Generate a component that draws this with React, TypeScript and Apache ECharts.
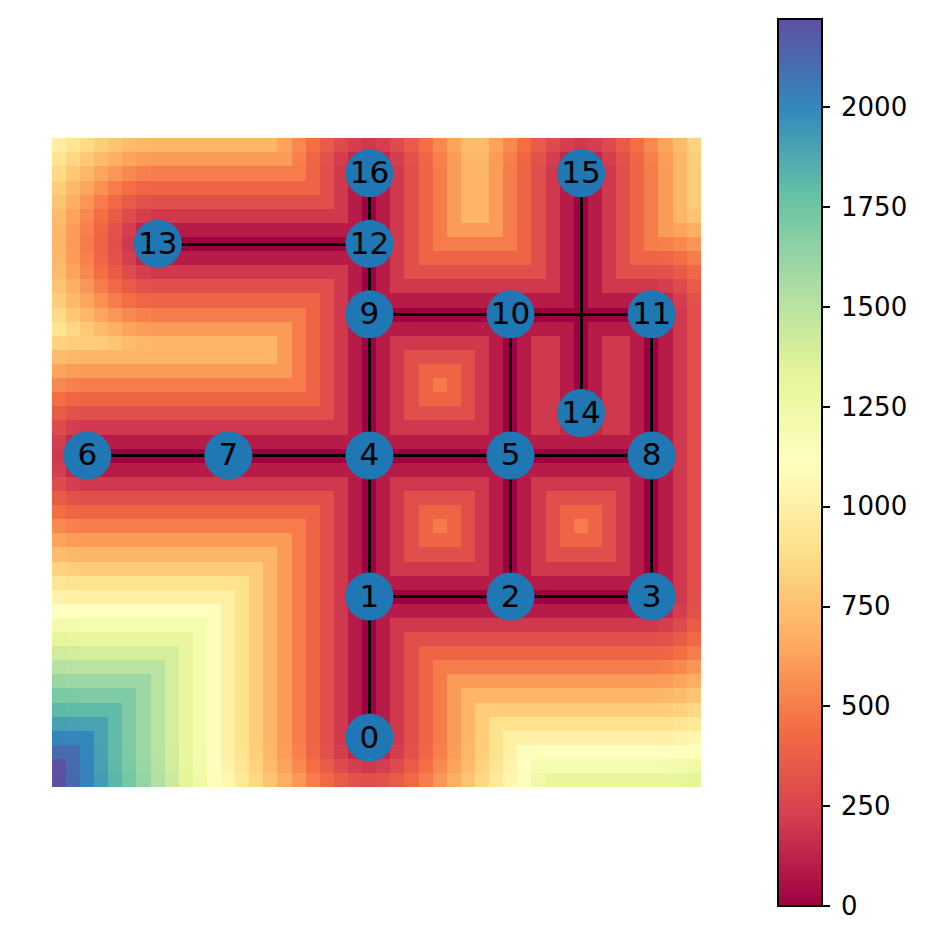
import React, { useEffect, useRef } from "react";
import * as echarts from "echarts";

// Heat values, bottom row first, left to right.
const heatRows: number[][] = [
[2220,2121,2022,1924,1825,1726,1628,1530,1432,1334,1237,1140,1044,949,854,762,671,583,500,424,361,316,300,316,361,424,500,583,671,762,854,949,1044,1140,1237,1300,1300,1300,1300,1300,1300,1300,1300,1304,1315,1334],
[2209,2110,2010,1910,1811,1712,1612,1513,1414,1315,1217,1118,1020,922,825,728,632,539,447,361,283,224,200,224,283,361,447,539,632,728,825,922,1020,1118,1200,1200,1200,1200,1200,1200,1200,1200,1200,1204,1217,1237],
[2110,2102,2002,1903,1803,1703,1603,1503,1404,1304,1204,1105,1005,906,806,707,608,510,412,316,224,141,100,141,224,316,412,510,608,707,806,906,1005,1100,1100,1100,1100,1100,1100,1100,1100,1100,1100,1105,1118,1140],
[2010,2002,2000,1900,1800,1700,1600,1500,1400,1300,1200,1100,1000,900,800,700,600,500,400,300,200,100,0,100,200,300,400,500,600,700,800,900,1000,1000,1000,1000,1000,1000,1000,1000,1000,1000,1000,1005,1020,1044],
[1910,1903,1900,1900,1800,1700,1600,1500,1400,1300,1200,1100,1000,900,800,700,600,500,400,300,200,100,0,100,200,300,400,500,600,700,800,900,900,900,900,900,900,900,900,900,900,900,900,906,922,949],
[1811,1803,1800,1800,1800,1700,1600,1500,1400,1300,1200,1100,1000,900,800,700,600,500,400,300,200,100,0,100,200,300,400,500,600,700,800,800,800,800,800,800,800,800,800,800,800,800,800,806,825,854],
[1712,1703,1700,1700,1700,1700,1600,1500,1400,1300,1200,1100,1000,900,800,700,600,500,400,300,200,100,0,100,200,300,400,500,600,700,700,700,700,700,700,700,700,700,700,700,700,700,700,707,728,762],
[1612,1603,1600,1600,1600,1600,1600,1500,1400,1300,1200,1100,1000,900,800,700,600,500,400,300,200,100,0,100,200,300,400,500,600,600,600,600,600,600,600,600,600,600,600,600,600,600,600,608,632,671],
[1513,1503,1500,1500,1500,1500,1500,1500,1400,1300,1200,1100,1000,900,800,700,600,500,400,300,200,100,0,100,200,300,400,500,500,500,500,500,500,500,500,500,500,500,500,500,500,500,500,510,539,583],
[1414,1404,1400,1400,1400,1400,1400,1400,1400,1300,1200,1100,1000,900,800,700,600,500,400,300,200,100,0,100,200,300,400,400,400,400,400,400,400,400,400,400,400,400,400,400,400,400,400,412,447,500],
[1315,1304,1300,1300,1300,1300,1300,1300,1300,1300,1200,1100,1000,900,800,700,600,500,400,300,200,100,0,100,200,300,300,300,300,300,300,300,300,300,300,300,300,300,300,300,300,300,300,316,361,424],
[1217,1204,1200,1200,1200,1200,1200,1200,1200,1200,1200,1100,1000,900,800,700,600,500,400,300,200,100,0,100,200,200,200,200,200,200,200,200,200,200,200,200,200,200,200,200,200,200,200,224,283,361],
[1118,1105,1100,1100,1100,1100,1100,1100,1100,1100,1100,1100,1000,900,800,700,600,500,400,300,200,100,0,100,100,100,100,100,100,100,100,100,100,100,100,100,100,100,100,100,100,100,100,141,224,316],
[1020,1005,1000,1000,1000,1000,1000,1000,1000,1000,1000,1000,1000,900,800,700,600,500,400,300,200,100,0,0,0,0,0,0,0,0,0,0,0,0,0,0,0,0,0,0,0,0,0,100,200,300],
[922,906,900,900,900,900,900,900,900,900,900,900,900,900,800,700,600,500,400,300,200,100,0,100,100,100,100,100,100,100,100,100,0,100,100,100,100,100,100,100,100,100,0,100,200,300],
[825,806,800,800,800,800,800,800,800,800,800,800,800,800,800,700,600,500,400,300,200,100,0,100,200,200,200,200,200,200,200,100,0,100,200,200,200,200,200,200,200,100,0,100,200,300],
[728,707,700,700,700,700,700,700,700,700,700,700,700,700,700,700,600,500,400,300,200,100,0,100,200,300,300,300,300,300,200,100,0,100,200,300,300,300,300,300,200,100,0,100,200,300],
[632,608,600,600,600,600,600,600,600,600,600,600,600,600,600,600,600,500,400,300,200,100,0,100,200,300,400,400,400,300,200,100,0,100,200,300,400,400,400,300,200,100,0,100,200,300],
[539,510,500,500,500,500,500,500,500,500,500,500,500,500,500,500,500,500,400,300,200,100,0,100,200,300,400,500,400,300,200,100,0,100,200,300,400,500,400,300,200,100,0,100,200,300],
[447,412,400,400,400,400,400,400,400,400,400,400,400,400,400,400,400,400,400,300,200,100,0,100,200,300,400,400,400,300,200,100,0,100,200,300,400,400,400,300,200,100,0,100,200,300],
[361,316,300,300,300,300,300,300,300,300,300,300,300,300,300,300,300,300,300,300,200,100,0,100,200,300,300,300,300,300,200,100,0,100,200,300,300,300,300,300,200,100,0,100,200,300],
[283,224,200,200,200,200,200,200,200,200,200,200,200,200,200,200,200,200,200,200,200,100,0,100,200,200,200,200,200,200,200,100,0,100,200,200,200,200,200,200,200,100,0,100,200,300],
[224,141,100,100,100,100,100,100,100,100,100,100,100,100,100,100,100,100,100,100,100,100,0,100,100,100,100,100,100,100,100,100,0,100,100,100,100,100,100,100,100,100,0,100,200,300],
[200,100,0,0,0,0,0,0,0,0,0,0,0,0,0,0,0,0,0,0,0,0,0,0,0,0,0,0,0,0,0,0,0,0,0,0,0,0,0,0,0,0,0,100,200,300],
[224,141,100,100,100,100,100,100,100,100,100,100,100,100,100,100,100,100,100,100,100,100,0,100,100,100,100,100,100,100,100,100,0,100,100,100,100,100,100,100,100,100,0,100,200,300],
[283,224,200,200,200,200,200,200,200,200,200,200,200,200,200,200,200,200,200,200,200,100,0,100,200,200,200,200,200,200,200,100,0,100,200,200,141,100,141,200,200,100,0,100,200,300],
[361,316,300,300,300,300,300,300,300,300,300,300,300,300,300,300,300,300,300,300,200,100,0,100,200,300,300,300,300,300,200,100,0,100,200,200,100,0,100,200,200,100,0,100,200,300],
[447,412,400,400,400,400,400,400,400,400,400,400,400,400,400,400,400,400,400,300,200,100,0,100,200,300,400,400,400,300,200,100,0,100,200,200,100,0,100,200,200,100,0,100,200,300],
[539,510,500,500,500,500,500,500,500,500,500,500,500,500,500,500,500,500,400,300,200,100,0,100,200,300,400,500,400,300,200,100,0,100,200,200,100,0,100,200,200,100,0,100,200,300],
[632,608,600,600,600,600,600,600,600,600,600,600,600,600,600,600,600,500,400,300,200,100,0,100,200,300,400,400,400,300,200,100,0,100,200,200,100,0,100,200,200,100,0,100,200,300],
[728,707,700,700,700,700,700,700,700,700,700,700,700,700,700,700,600,500,400,300,200,100,0,100,200,300,300,300,300,300,200,100,0,100,200,200,100,0,100,200,200,100,0,100,200,300],
[825,806,800,800,762,728,707,700,700,700,700,700,700,700,700,700,600,500,400,300,200,100,0,100,200,200,200,200,200,200,200,100,0,100,200,200,100,0,100,200,200,100,0,100,200,300],
[922,849,781,721,671,632,608,600,600,600,600,600,600,600,600,600,600,500,400,300,200,100,0,100,100,100,100,100,100,100,100,100,0,100,100,100,100,0,100,100,100,100,0,100,200,300],
[860,781,707,640,583,539,510,500,500,500,500,500,500,500,500,500,500,500,400,300,200,100,0,0,0,0,0,0,0,0,0,0,0,0,0,0,0,0,0,0,0,0,0,100,200,300],
[806,721,640,566,500,447,412,400,400,400,400,400,400,400,400,400,400,400,400,300,200,100,0,100,100,100,100,100,100,100,100,100,100,100,100,100,100,0,100,100,100,100,100,141,224,316],
[762,671,583,500,424,361,316,300,300,300,300,300,300,300,300,300,300,300,300,300,200,100,0,100,200,200,200,200,200,200,200,200,200,200,200,200,100,0,100,200,200,200,200,224,283,361],
[728,632,539,447,361,283,224,200,200,200,200,200,200,200,200,200,200,200,200,200,200,100,0,100,200,300,300,300,300,300,300,300,300,300,300,200,100,0,100,200,300,300,300,316,361,424],
[707,608,510,412,316,224,141,100,100,100,100,100,100,100,100,100,100,100,100,100,100,100,0,100,200,300,400,400,400,400,400,400,400,400,300,200,100,0,100,200,300,400,400,412,447,500],
[700,600,500,400,300,200,100,0,0,0,0,0,0,0,0,0,0,0,0,0,0,0,0,100,200,300,400,500,500,500,500,500,500,400,300,200,100,0,100,200,300,400,500,510,539,583],
[707,608,510,412,316,224,141,100,100,100,100,100,100,100,100,100,100,100,100,100,100,100,0,100,200,300,400,500,600,600,600,600,500,400,300,200,100,0,100,200,300,400,500,600,632,671],
[728,632,539,447,361,283,224,200,200,200,200,200,200,200,200,200,200,200,200,200,200,100,0,100,200,300,400,500,600,700,700,600,500,400,300,200,100,0,100,200,300,400,500,600,700,762],
[762,671,583,500,424,361,316,300,300,300,300,300,300,300,300,300,300,300,300,300,200,100,0,100,200,300,400,500,600,700,700,600,500,400,300,200,100,0,100,200,300,400,500,600,700,800],
[806,721,640,566,500,447,412,400,400,400,400,400,400,400,400,400,400,400,400,300,200,100,0,100,200,300,400,500,600,700,700,600,500,400,300,200,100,0,100,200,300,400,500,600,700,800],
[860,781,707,640,583,539,510,500,500,500,500,500,500,500,500,500,500,500,400,300,200,100,0,100,200,300,400,500,600,700,700,600,500,400,300,200,100,0,100,200,300,400,500,600,700,800],
[922,849,781,721,671,632,608,600,600,600,600,600,600,600,600,600,600,510,412,316,224,141,100,141,224,316,412,510,608,707,707,608,510,412,316,224,141,100,141,224,316,412,510,608,707,806],
[990,922,860,806,762,728,707,700,700,700,700,700,700,700,700,700,632,539,447,361,283,224,200,224,283,361,447,539,632,728,728,632,539,447,361,283,224,200,224,283,361,447,539,632,728,825],
];

const nodeNames = ["0","1","2","3","4","5","6","7","8","9","10","11","12","13","14","15","16"];
const nodeCols = [22,22,32,42,22,32,2,12,42,22,32,42,22,7,37,37,22];
const nodeRows = [3,13,13,13,23,23,23,23,23,33,33,33,38,38,26,43,43];
const edges: [number, number][] = [
  [0,1],[1,2],[2,3],[1,4],[2,5],[3,8],[4,5],[5,8],[6,7],[7,4],[4,9],[5,10],[8,11],
  [9,10],[10,11],[9,12],[12,16],[13,12],[14,15],
];

const colorbarTicks = [0,250,500,750,1000,1250,1500,1750,2000];
const valueMax = 2220;
const spectral = ["#9e0142","#d53e4f","#f46d43","#fdae61","#fee08b","#ffffbf","#e6f598","#abdda4","#66c2a5","#3288bd","#5e4fa2"];

const FONT = "DejaVu Sans";

export default function App() {
  const ref = useRef<HTMLDivElement>(null);
  useEffect(() => {
    const chart = echarts.init(ref.current!, undefined, { renderer: "svg" });
    const categories = heatRows.map((_, i) => String(i));
    const heatData = heatRows.flatMap((row, r) => row.map((v, c) => [c, r, v]));
    const gridRect = { left: 52, top: 138, width: 649, height: 649 };
    const cbRect = { left: 778, top: 19, width: 44, height: 887 };
    chart.setOption({
      animation: false,
      backgroundColor: "#ffffff",
      grid: [
        { ...gridRect, containLabel: false },
        { ...cbRect, containLabel: false },
      ],
      xAxis: [
        { type: "category", gridIndex: 0, data: categories, show: false },
        { type: "category", gridIndex: 1, data: ["bar"], show: false },
      ],
      yAxis: [
        { type: "category", gridIndex: 0, data: categories, show: false },
        {
          type: "value",
          gridIndex: 1,
          position: "right",
          min: 0,
          max: valueMax,
          splitLine: { show: false },
          axisLine: { show: true, lineStyle: { color: "#000", width: 2 } },
          axisTick: {
            show: true,
            length: 8,
            customValues: colorbarTicks,
            lineStyle: { color: "#000", width: 2 },
          },
          axisLabel: {
            show: true,
            customValues: colorbarTicks,
            formatter: (v: number) => String(v),
            color: "#000",
            fontFamily: FONT,
            fontSize: 26,
            margin: 19,
            padding: [3, 0, 0, 0],
          },
        },
      ],
      visualMap: {
        show: false,
        type: "continuous",
        seriesIndex: 0,
        min: 0,
        max: valueMax,
        inRange: { color: spectral },
      },
      series: [
        {
          type: "heatmap",
          xAxisIndex: 0,
          yAxisIndex: 0,
          data: heatData,
          progressive: 0,
          itemStyle: { borderWidth: 0 },
          emphasis: { disabled: true },
          z: 1,
        },
        {
          type: "lines",
          coordinateSystem: "cartesian2d",
          xAxisIndex: 0,
          yAxisIndex: 0,
          polyline: false,
          silent: true,
          lineStyle: { color: "#000", width: 3, opacity: 1 },
          data: edges.map(([a, b]) => ({
            coords: [
              [nodeCols[a], nodeRows[a]],
              [nodeCols[b], nodeRows[b]],
            ],
          })),
          z: 2,
        },
        {
          type: "scatter",
          xAxisIndex: 0,
          yAxisIndex: 0,
          symbol: "circle",
          symbolSize: 48,
          itemStyle: { color: "#1f77b4", opacity: 1, borderColor: "#1f77b4", borderWidth: 0.01 },
          label: {
            show: true,
            position: "inside",
            formatter: (p: any) => p.name,
            color: "#000",
            fontFamily: FONT,
            fontSize: 31,
            offset: [0, -1],
          },
          data: nodeNames.map((name, i) => ({ name, value: [nodeCols[i], nodeRows[i]] })),
          z: 3,
        },
        {
          type: "bar",
          xAxisIndex: 1,
          yAxisIndex: 1,
          barWidth: "100%",
          silent: true,
          data: [valueMax],
          itemStyle: {
            color: new echarts.graphic.LinearGradient(
              0, 1, 0, 0,
              spectral.map((color, i) => ({ offset: i / (spectral.length - 1), color }))
            ),
          },
          z: 1,
        },
      ],
      graphic: [
        {
          type: "rect",
          z: 100,
          shape: { x: cbRect.left, y: cbRect.top, width: cbRect.width, height: cbRect.height },
          style: { fill: "none", stroke: "#000", lineWidth: 2 },
          silent: true,
        },
      ],
    });
    return () => chart.dispose();
  }, []);
  return (
    <>
      <style>{`svg path:not([stroke]){shape-rendering:crispEdges}`}</style>
      <div
        ref={ref}
        style={{ position: "absolute", left: 0, top: 0, width: 928, height: 941 }}
      />
    </>
  );
}
